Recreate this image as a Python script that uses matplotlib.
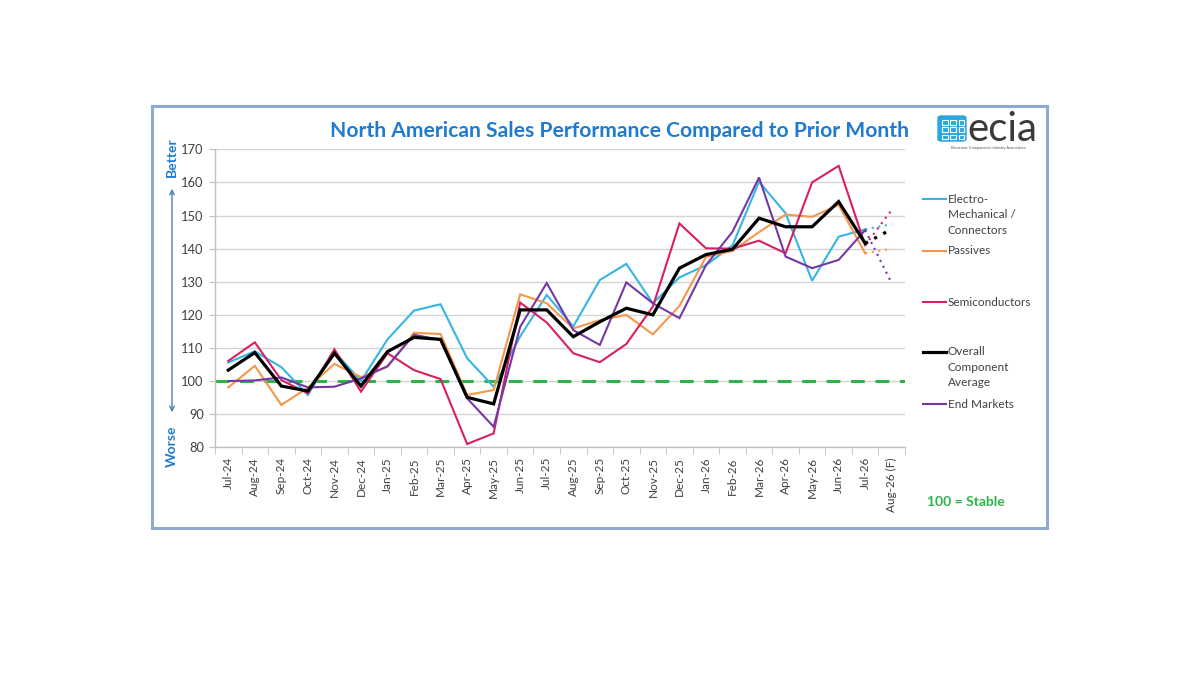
import matplotlib
matplotlib.use("Agg")
import matplotlib.pyplot as plt
from matplotlib.lines import Line2D
from matplotlib.patches import Rectangle, FancyBboxPatch, FancyArrowPatch
import numpy as np

plt.rcParams['font.family'] = ['Lato', 'DejaVu Sans']

months = ["Jul-24", "Aug-24", "Sep-24", "Oct-24", "Nov-24", "Dec-24",
          "Jan-25", "Feb-25", "Mar-25", "Apr-25", "May-25", "Jun-25",
          "Jul-25", "Aug-25", "Sep-25", "Oct-25", "Nov-25", "Dec-25",
          "Jan-26", "Feb-26", "Mar-26", "Apr-26", "May-26", "Jun-26",
          "Jul-26", "Aug-26 (F)"]

electro = [105.6, 109.0, 104.2, 95.8, 108.9, 100.0, 112.6, 121.3, 123.2, 106.9,
           98.3, 113.5, 126.0, 116.5, 130.5, 135.4, 123.5, 131.3, 135.0, 141.0,
           160.2, 150.7, 130.3, 143.6, 145.8]
passives = [98.1, 104.6, 92.8, 98.0, 105.2, 101.2, 104.3, 114.6, 114.2, 95.8,
            97.3, 126.2, 123.5, 115.9, 118.4, 120.0, 114.1, 122.7, 137.5, 139.3,
            145.0, 150.3, 149.6, 153.2, 138.6]
semis = [106.1, 111.7, 100.3, 96.3, 109.6, 96.8, 108.4, 103.3, 100.6, 81.0,
         84.2, 123.7, 117.7, 108.4, 105.7, 111.2, 122.5, 147.6, 140.1, 140.0,
         142.4, 138.6, 160.0, 165.0, 141.0]
overall = [103.3, 108.6, 98.5, 97.0, 108.4, 98.5, 108.9, 113.2, 112.6, 95.1,
           93.1, 121.5, 121.5, 113.4, 117.9, 122.0, 120.0, 134.1, 138.2, 139.8,
           149.2, 146.6, 146.6, 154.2, 141.6]
end_markets = [100.0, 100.2, 101.1, 98.1, 98.3, 100.8, 104.5, 114.0, 112.4, 94.8,
               86.2, 116.4, 129.6, 115.4, 110.9, 129.8, 123.5, 119.0, 135.0, 145.1,
               161.5, 137.6, 134.1, 136.6, 145.6]

# Aug-26 forecasts
forecast = {"electro": 147.4, "passives": 140.0, "semis": 151.7,
            "overall": 145.9, "end_markets": 129.5}

stable_value = 100

C_CYAN = "#35b5e5"
C_ORANGE = "#f7964a"
C_PINK = "#d91f64"
C_BLACK = "#000000"
C_PURPLE = "#7438a6"
C_GREEN = "#2db34a"
C_BLUE = "#1f7bd0"
C_TEXT = "#404040"

W, H = 1200, 675
fig = plt.figure(figsize=(12, 6.75), dpi=100)
fig.patch.set_facecolor("white")

def fx(x):
    return x / W

def fy(y):
    return 1 - y / H

# outer frame
fig.patches.append(Rectangle((fx(152), fy(528)), fx(1047) - fx(152), fy(106) - fy(528),
                             transform=fig.transFigure, fill=False,
                             edgecolor="#8eaad2", linewidth=2.2))

ax = fig.add_axes([fx(215), fy(447.3), fx(905) - fx(215), fy(149.3) - fy(447.3)])
x = np.arange(len(months))
n = len(electro)

series = [
    (electro, forecast["electro"], C_CYAN, 1.5),
    (passives, forecast["passives"], C_ORANGE, 1.5),
    (semis, forecast["semis"], C_PINK, 1.5),
    (end_markets, forecast["end_markets"], C_PURPLE, 1.5),
    (overall, forecast["overall"], C_BLACK, 2.3),
]

ax.axhline(stable_value, color=C_GREEN, linewidth=2.2, linestyle=(0, (4.5, 3.5)), zorder=2)

for vals, fc, col, lw in series:
    ax.plot(x[:n], vals, color=col, linewidth=lw, zorder=3, solid_joinstyle="miter")
    ax.plot([x[n - 1], x[n]], [vals[-1], fc], color=col, linewidth=lw,
            linestyle=(0, (1, 2.2)), zorder=3)

ax.set_xlim(-0.5, len(months) - 0.5)
ax.set_ylim(80, 170)
ax.set_yticks(np.arange(80, 171, 10))
ax.yaxis.grid(True, color="#d4d4d4", linewidth=1.0)
ax.set_axisbelow(True)

ax.set_xticks(x)
ax.set_xticklabels(months, rotation=90, fontsize=8.5, color=C_TEXT)
ax.set_xticks(np.arange(-0.5, len(months), 1), minor=True)
ax.tick_params(axis="x", which="major", length=0, pad=7)
ax.tick_params(axis="x", which="minor", length=5, color="#bfbfbf", direction="out")
ax.tick_params(axis="y", which="major", length=4, color="#bfbfbf", labelsize=9.3,
               labelcolor=C_TEXT, pad=4)

for s in ["top", "right"]:
    ax.spines[s].set_visible(False)
for s in ["left", "bottom"]:
    ax.spines[s].set_color("#bfbfbf")
    ax.spines[s].set_linewidth(1.0)

# title
fig.text(fx(619), fy(131), "North American Sales Performance Compared to Prior Month",
         ha="center", va="center", fontsize=15.2, fontweight="bold", color=C_BLUE)

# Better / Worse labels and arrow
fig.text(fx(172), fy(157), "Better", rotation=90, ha="center", va="center",
         fontsize=10, fontweight="bold", color=C_BLUE)
fig.text(fx(172), fy(446), "Worse", rotation=90, ha="center", va="center",
         fontsize=10, fontweight="bold", color=C_BLUE)
fig.patches.append(FancyArrowPatch((fx(172), fy(415)), (fx(172), fy(186)),
                                   transform=fig.transFigure, arrowstyle="<->",
                                   mutation_scale=8, color="#4a7ebb", linewidth=1.0))

# legend
legend_rows = [
    (C_CYAN, 1.5, ["Electro-", "Mechanical /", "Connectors"], 199),
    (C_ORANGE, 1.5, ["Passives"], 251),
    (C_PINK, 1.5, ["Semiconductors"], 302),
    (C_BLACK, 2.3, ["Overall", "Component", "Average"], 352),
    (C_PURPLE, 1.5, ["End Markets"], 404),
]
for col, lw, lines, y0 in legend_rows:
    fig.lines.append(Line2D([fx(923), fx(946)], [fy(y0), fy(y0)], color=col,
                            linewidth=lw, transform=fig.transFigure))
    for k, t in enumerate(lines):
        fig.text(fx(948), fy(y0 + 15.5 * k), t, ha="left", va="center",
                 fontsize=8.5, color=C_TEXT)

fig.text(fx(966), fy(502), "100 = Stable", ha="center", va="center",
         fontsize=10, fontweight="bold", color=C_GREEN)

# logo
fig.patches.append(FancyBboxPatch((fx(938), fy(141)), fx(966) - fx(938), fy(116) - fy(141),
                                  boxstyle="round,pad=0.0,rounding_size=0.003",
                                  transform=fig.transFigure, facecolor="#2aa7e0",
                                  edgecolor="#2aa7e0"))
for i in range(3):
    for j in range(3):
        cx = 942 + j * 8.3
        cy = 120 + i * 7.3
        fig.patches.append(Rectangle((fx(cx), fy(cy + 4.5)), fx(5.5), fy(0) - fy(4.5),
                                     transform=fig.transFigure, facecolor="none",
                                     edgecolor="white", linewidth=0.8))
fig.text(fx(967), fy(141), "ecia", ha="left", va="baseline", fontsize=29,
         color="#3a3a3a")
fig.text(fx(988), fy(148), "Electronic Components Industry Association", ha="center",
         va="center", fontsize=2.8, color="#555555")

fig.savefig("out.png", dpi=100, facecolor="white")
